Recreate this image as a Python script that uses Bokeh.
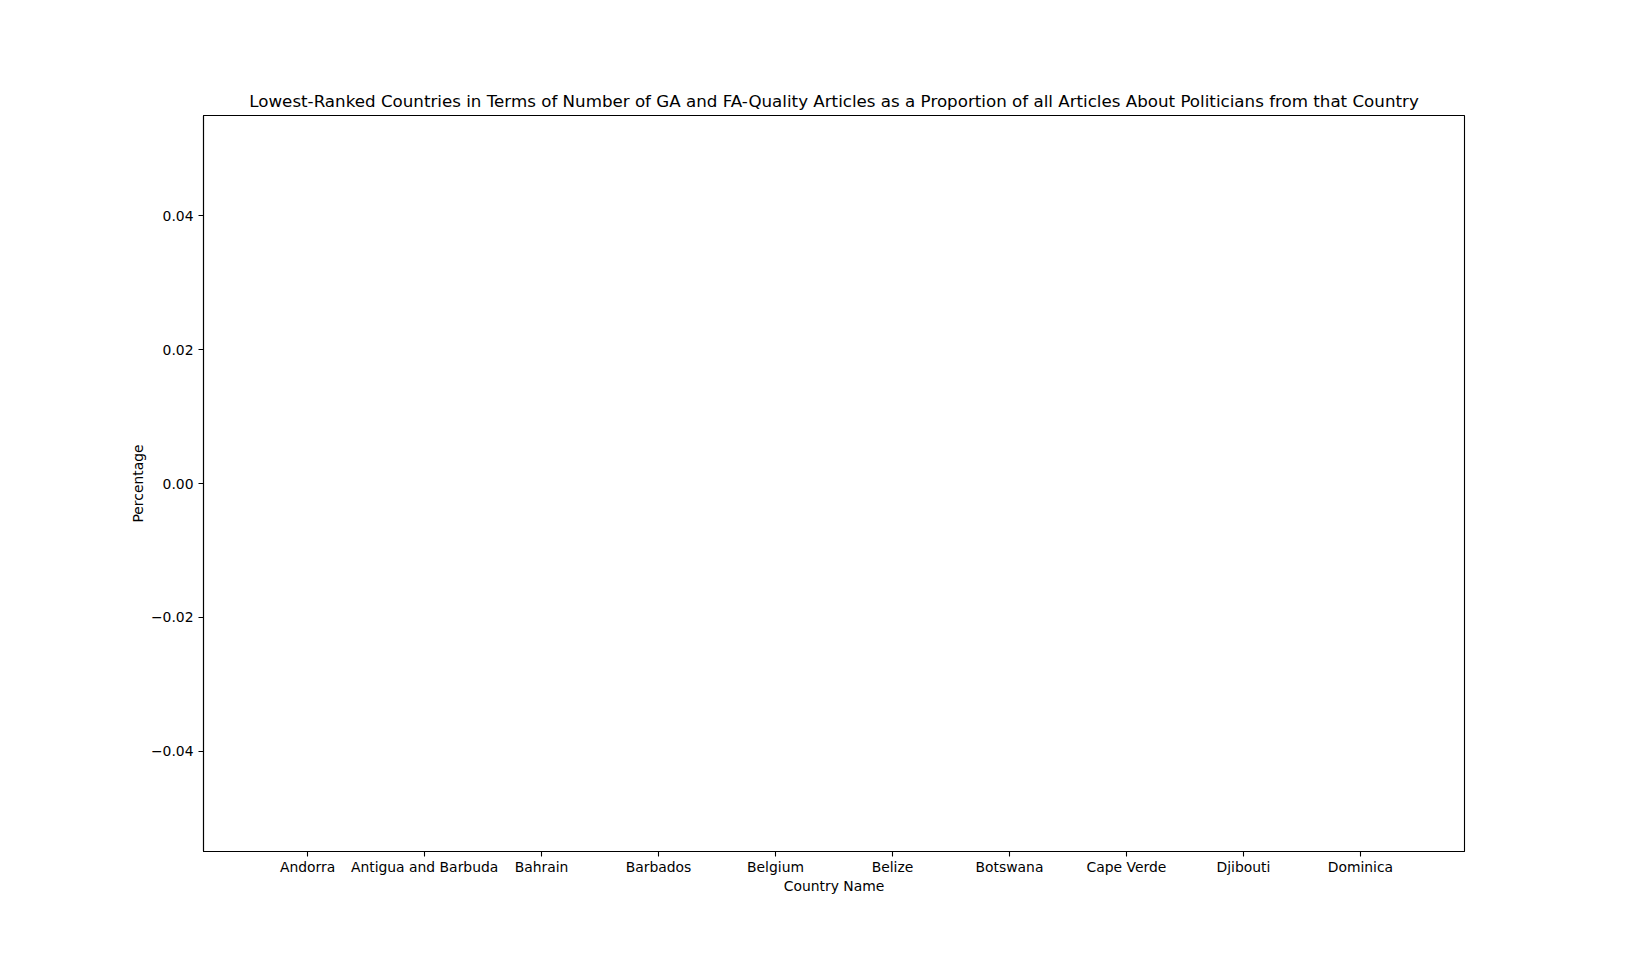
from bokeh.plotting import figure
from bokeh.models import Range1d, FixedTicker, ColumnDataSource
from bokeh.embed import file_html
from bokeh.resources import INLINE

countries = ["Andorra", "Antigua and Barbuda", "Bahrain", "Barbados", "Belgium",
             "Belize", "Botswana", "Cape Verde", "Djibouti", "Dominica"]
percentages = [0.0, 0.0, 0.0, 0.0, 0.0, 0.0, 0.0, 0.0, 0.0, 0.0]
y_ticks = [-0.04, -0.02, 0.0, 0.02, 0.04]
y_tick_labels = ["\u22120.04", "\u22120.02", "0.00", "0.02", "0.04"]

FONT = "DejaVu Sans"

positions = list(range(len(countries)))
src = ColumnDataSource(dict(x=positions, top=percentages, name=countries))

p = figure(width=1627, height=956, output_backend="svg", toolbar_location=None,
           x_range=Range1d(-0.89, 9.89), y_range=Range1d(-0.055, 0.055),
           title="Lowest-Ranked Countries in Terms of Number of GA and FA-Quality Articles as a Proportion of all Articles About Politicians from that Country",
           min_border_left=203, min_border_right=163, min_border_top=115, min_border_bottom=105)

p.vbar(x="x", top="top", bottom=0, width=0.8, source=src,
       fill_color="#1f77b4", line_alpha=0)

p.title.align = "center"
p.title.text_font = FONT
p.title.text_font_size = "16.7px"
p.title.text_font_style = "normal"
p.title.text_color = "black"
p.title.standoff = 10

p.xgrid.visible = False
p.ygrid.visible = False
p.outline_line_color = "black"
p.outline_line_width = 1.1
p.outline_line_alpha = 1.0
p.background_fill_color = "white"
p.border_fill_color = "white"

p.xaxis.ticker = FixedTicker(ticks=positions)
p.xaxis.major_label_overrides = {i: c for i, c in enumerate(countries)}
p.yaxis.ticker = FixedTicker(ticks=y_ticks)
p.yaxis.major_label_overrides = {t: l for t, l in zip(y_ticks, y_tick_labels)}

for ax in (p.xaxis, p.yaxis):
    ax.axis_line_color = "black"
    ax.axis_line_width = 1.1
    ax.major_tick_line_color = "black"
    ax.major_tick_line_width = 1.1
    ax.major_tick_out = 5
    ax.major_tick_in = 0
    ax.minor_tick_line_color = None
    ax.major_label_text_font = FONT
    ax.major_label_text_font_size = "13.9px"
    ax.major_label_text_color = "black"
    ax.major_label_standoff = 5
    ax.axis_label_text_font = FONT
    ax.axis_label_text_font_size = "13.9px"
    ax.axis_label_text_font_style = "normal"
    ax.axis_label_text_color = "black"
    ax.axis_label_standoff = 4

p.xaxis.major_label_standoff = 2
p.xaxis.axis_label_standoff = 0
p.yaxis.axis_label_standoff = 2

p.xaxis.axis_label = "Country Name"
p.yaxis.axis_label = "Percentage"

open("out.html", "w").write(file_html(p, INLINE))
